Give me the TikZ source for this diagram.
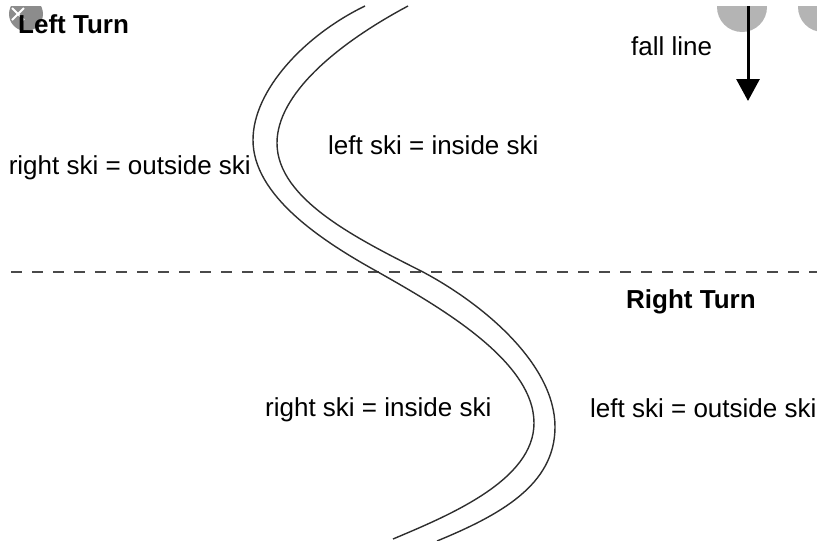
\documentclass[tikz,border=0pt]{standalone}
\usepackage{fontspec}
\setmainfont{Liberation Sans}
\usepackage{xcolor}
\usetikzlibrary{arrows.meta}

\definecolor{skiline}{HTML}{2E2E2E}
\definecolor{dashgrey}{HTML}{4A4A4A}
\definecolor{uigrey}{HTML}{B4B4B4}
\definecolor{uidark}{HTML}{8C8C8C}

\tikzset{
  txt/.style={inner sep=0pt, anchor=base west, font=\fontsize{26}{30}\selectfont},
  turn/.style={inner sep=0pt, anchor=base west, font=\fontsize{26}{30}\selectfont\bfseries},
  track/.style={draw=skiline, line width=1.4pt},
}

\begin{document}
\begin{tikzpicture}[x=1pt, y=-1pt]
\useasboundingbox (0,0) rectangle (817,541);

% screenshot buttons
\begin{scope}
\clip (0,6) rectangle (817,541);
\fill[uidark] (26,14) circle (17);
\draw[white, line width=2pt] (12,8) -- (24,20) (24,8) -- (12,20);
\fill[uigrey] (742,7) circle (25);
\fill[uigrey] (823,7) circle (25);
\end{scope}

% split between the two turns
\draw[dashgrey, line width=1.7pt, dash pattern=on 11pt off 10pt] (11,272) -- (817,272);

% the two ski tracks
\draw[track] (365,6) .. controls (305,35) and (253,90) .. (253,140)
  .. controls (253,195) and (320,240) .. (378,272)
  .. controls (436,305) and (534,360) .. (534,423)
  .. controls (534,480) and (450,515) .. (393,539);
\draw[track] (408,6) .. controls (335,45) and (277,95) .. (277,143)
  .. controls (277,200) and (360,240) .. (423,272)
  .. controls (485,305) and (555,365) .. (555,427)
  .. controls (555,485) and (500,515) .. (437,541);

\node[turn] (lturn) at (18,33) {Left Turn};
\node[turn] (rturn) at (626,308) {Right Turn};
\node[txt] (fall) at (631,55) {fall line};
\node[txt] (lin) at (328,154) {left ski = inside ski};
\node[txt, anchor=base east] (rout) at (251,174) {right ski = outside ski};
\node[txt] (rin) at (265,416) {right ski = inside ski};
\node[txt] (lout) at (590,417) {left ski = outside ski};

\coordinate (ftop) at (748,6);
\coordinate (fbot) at (748,101);
\draw[line width=3pt, -{Triangle[length=22pt, width=23pt]}] (ftop) -- (fbot);
\end{tikzpicture}
\end{document}
